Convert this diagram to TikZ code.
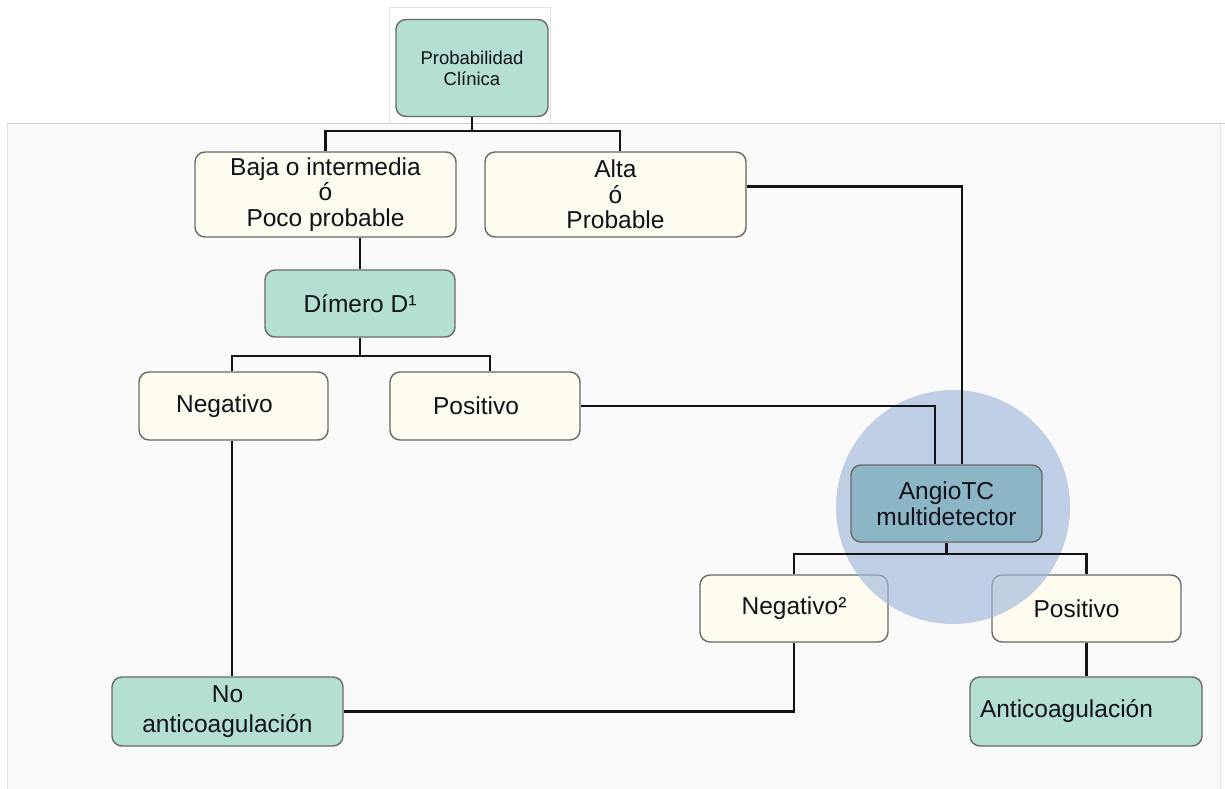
\documentclass[tikz,border=0pt]{standalone}
\usepackage{fontspec}
\setmainfont{Liberation Sans}
\definecolor{teal1}{RGB}{180,224,212}
\definecolor{cream}{RGB}{253,252,238}
\definecolor{boxline}{RGB}{105,105,105}
\definecolor{ink}{RGB}{18,18,26}
\definecolor{wire}{RGB}{20,20,20}
\definecolor{panel}{RGB}{250,250,250}
\definecolor{panelline}{RGB}{205,205,205}
\definecolor{halo}{RGB}{160,184,220}
\definecolor{ctbox}{RGB}{140,182,198}
\tikzset{
  box/.style={draw=boxline, line width=1.4pt, rounded corners=10pt, align=center,
              text=ink, inner sep=0pt, font=\fontsize{24.5}{25.5}\selectfont},
  pale/.style={box, fill=cream},
  mint/.style={box, fill=teal1},
  wirestyle/.style={draw=wire, line width=2.2pt},
}
\begin{document}
\begin{tikzpicture}[x=1pt,y=-1pt]
\useasboundingbox (0,0) rectangle (1225,789);
% page and grey panel
\fill[white] (0,0) rectangle (1225,789);
\fill[panel] (7,124) rectangle (1220,789);
\draw[panelline, line width=1pt] (7,124) -- (1225,124);
\draw[panelline!60, line width=0.8pt] (7,124) -- (7,789);
\draw[panelline!60, line width=0.8pt] (1220,124) -- (1220,789);
\draw[panelline!60, line width=0.8pt] (389,124) -- (389,7) -- (550,7) -- (550,124);

% boxes
\node[mint, minimum width=152pt, minimum height=97pt, font=\fontsize{18.5}{21}\selectfont]
  (prob) at (472,68) {Probabilidad\\Clínica};
\node[pale, minimum width=261pt, minimum height=85pt] (baja) at (325.5,194.5)
  {Baja o intermedia\\ó\\Poco probable};
\node[pale, minimum width=261pt, minimum height=85pt] (alta) at (615.5,194.5)
  {Alta\\ó\\Probable};
\node[mint, minimum width=190pt, minimum height=67pt] (dimero) at (360,303.5)
  {Dímero D¹};
\node[pale, minimum width=189pt, minimum height=68pt] (neg1) at (233.5,406)
  {Negativo\hspace*{18pt}};
\node[pale, minimum width=190pt, minimum height=68pt] (pos1) at (485,406)
  {Positivo\hspace*{18pt}};
\node[pale, minimum width=188pt, minimum height=67pt] (neg2) at (794,608.5)
  {Negativo²};
\node[pale, minimum width=189pt, minimum height=67pt] (pos2) at (1086.5,608.5)
  {Positivo\hspace*{20pt}};
\node[mint, minimum width=231pt, minimum height=69pt, font=\fontsize{24.5}{30}\selectfont]
  (noanti) at (227.5,711.5) {No\\anticoagulación};
\node[mint, minimum width=232pt, minimum height=69pt, text width=212pt, align=left]
  (anti) at (1086,711.5) {Anticoagulación};

% highlight disc around the CT step, laid over the result boxes
\node[circle, fill=halo, fill opacity=0.65, minimum size=234pt, inner sep=0pt]
  (halo) at (953,507) {};

\node[box, fill=ctbox, minimum width=191pt, minimum height=77pt] (angio) at (946.5,503.5)
  {AngioTC\\multidetector};

% connectors
\draw[wirestyle] (prob.south) -- ++(0,14) coordinate (t1);
\draw[wirestyle] (baja.north) |- (t1) -| ([xshift=4.5pt]alta.north);
\draw[wirestyle] ([yshift=8pt]alta.east) -| ([xshift=15.5pt]angio.north);
\draw[wirestyle] (baja.south -| dimero.north) -- (dimero.north);
\draw[wirestyle] (dimero.south) -- ++(0,18) coordinate (t2);
\draw[wirestyle] ([xshift=-1.5pt]neg1.north) |- (t2) -| ([xshift=5pt]pos1.north);
\draw[wirestyle] (pos1.east) -| ([xshift=-11.5pt]angio.north);
\draw[wirestyle] ([xshift=-1.5pt]neg1.south) -- ([xshift=-1.5pt]neg1.south |- noanti.north);
\draw[wirestyle] (angio.south) -- ++(0,11) coordinate (t3);
\draw[wirestyle] (neg2.north) |- (t3) -| (pos2.north);
\draw[wirestyle] (neg2.south) |- (noanti.east);
\draw[wirestyle] (pos2.south) -- (pos2.south |- anti.north);
\end{tikzpicture}
\end{document}
